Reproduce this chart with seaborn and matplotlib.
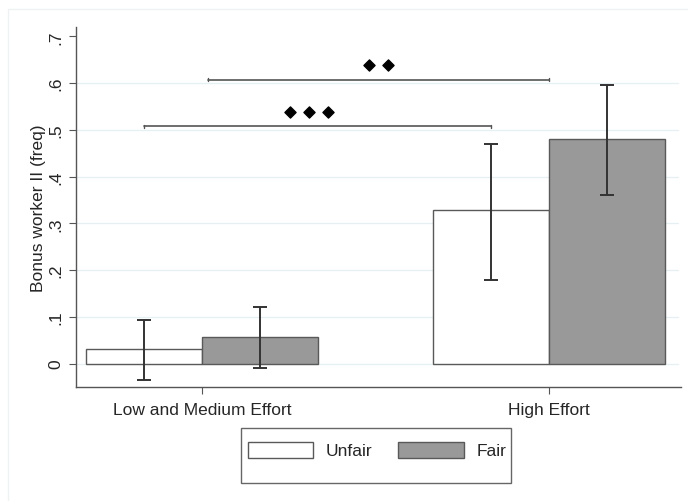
import matplotlib
matplotlib.use("Agg")
import matplotlib.pyplot as plt
from matplotlib.patches import Patch, Rectangle
import numpy as np
import pandas as pd
import seaborn as sns

efforts = ["Low and Medium Effort", "High Effort"]
conditions = ["Unfair", "Fair"]
freq_unfair = [0.032, 0.328]
freq_fair = [0.058, 0.480]
ci_low_unfair = [-0.034, 0.178]
ci_high_unfair = [0.093, 0.470]
ci_low_fair = [-0.010, 0.360]
ci_high_fair = [0.122, 0.596]
sig_heights = [0.508, 0.607]
sig_marks = [3, 2]
y_ticks = [0, 0.1, 0.2, 0.3, 0.4, 0.5, 0.6, 0.7]
y_tick_labels = ["0", ".1", ".2", ".3", ".4", ".5", ".6", ".7"]

df = pd.DataFrame({
    "effort": efforts * 2,
    "condition": ["Unfair"] * 2 + ["Fair"] * 2,
    "freq": freq_unfair + freq_fair,
    "lo": ci_low_unfair + ci_low_fair,
    "hi": ci_high_unfair + ci_high_fair,
})

sns.set_theme(style="white")
plt.rcParams["font.family"] = ["Liberation Sans", "DejaVu Sans"]
fill = ["white", "#999999"]
edge = "#595959"

fig = plt.figure(figsize=(6.88, 5.02), dpi=100)
# faint outer frame of the graph region
fig.patches.append(Rectangle((8 / 688, -0.05), 1.1, 1 - 10 / 502 + 0.05,
                             transform=fig.transFigure, facecolor="none",
                             edgecolor="#eef2f2", linewidth=1.0, zorder=0))
ax = fig.add_axes([76 / 688, 1 - 388 / 502, (681 - 76) / 688, (388 - 28) / 502])
sns.barplot(data=df, x="effort", y="freq", hue="condition", hue_order=conditions,
            palette=fill, edgecolor=edge, linewidth=1.0, width=0.668,
            errorbar=None, legend=False, ax=ax, zorder=2)

# error bars at bar centers
centers = {}
for cond, cont in zip(conditions, ax.containers):
    sub = df[df["condition"] == cond]
    xs = [b.get_x() + b.get_width() / 2 for b in cont]
    centers[cond] = xs
    yv = sub["freq"].to_numpy()
    err = np.vstack([yv - sub["lo"].to_numpy(), sub["hi"].to_numpy() - yv])
    ax.errorbar(xs, yv, yerr=err, fmt="none", ecolor="#333333", elinewidth=1.4,
                capsize=5, capthick=1.4, zorder=3)

# significance brackets
brackets = [(centers["Unfair"][0], centers["Unfair"][1]), (0.017, 1)]
for (x0, x1), h, n in zip(brackets, sig_heights, sig_marks):
    ax.plot([x0, x1], [h, h], color="#555555", lw=1.2, zorder=3)
    ax.plot([x0, x0], [h - 0.003, h + 0.003], color="#555555", lw=1.0)
    ax.plot([x1, x1], [h - 0.003, h + 0.003], color="#555555", lw=1.0)
    mid = (x0 + x1) / 2 - (0.025 if n == 3 else 0.0)
    xs = mid + 0.054 * (np.arange(n) - (n - 1) / 2)
    ax.scatter(xs, [h + 0.031] * n, marker="D", s=32, color="black", zorder=4)

ax.set_xlim(-0.363, 1.38)
ax.set_ylim(-0.05, 0.72)
ax.set_yticks(y_ticks)
ax.set_yticklabels(y_tick_labels, rotation=90, va="center", fontsize=12.5)
ax.tick_params(axis="y", direction="out", length=5, width=0.8, color="#555555",
               pad=4, left=True)
ax.tick_params(axis="x", direction="out", length=5, width=0.8, color="#555555",
               labelsize=12.5, pad=6, bottom=True)
ax.set_xlabel("")
ax.set_ylabel("Bonus worker II (freq)", fontsize=12.5, labelpad=2)
for y in y_ticks[:-1]:
    ax.plot([-0.363, 1.372], [y, y], color="#e6eff1", lw=0.9, zorder=0)
for s in ["top", "right"]:
    ax.spines[s].set_visible(False)
for s in ["left", "bottom"]:
    ax.spines[s].set_color("#555555")
    ax.spines[s].set_linewidth(1.0)

# legend box (Stata style, extra room below the keys)
fig.patches.append(Rectangle((241 / 688, 1 - 484 / 502), 270 / 688, 55 / 502,
                             transform=fig.transFigure, facecolor="white",
                             edgecolor="#666666", linewidth=1.0, zorder=0))
handles = [Patch(facecolor=c, edgecolor=edge, linewidth=1.0) for c in fill]
fig.legend(handles, conditions, loc="center", bbox_to_anchor=(377 / 688, 1 - 451 / 502),
           ncol=2, frameon=False, fontsize=12.5, handlelength=3.75, handleheight=1.05,
           columnspacing=1.5, handletextpad=0.75, borderpad=0.2)
fig.savefig("out.png", dpi=100, facecolor="white")
